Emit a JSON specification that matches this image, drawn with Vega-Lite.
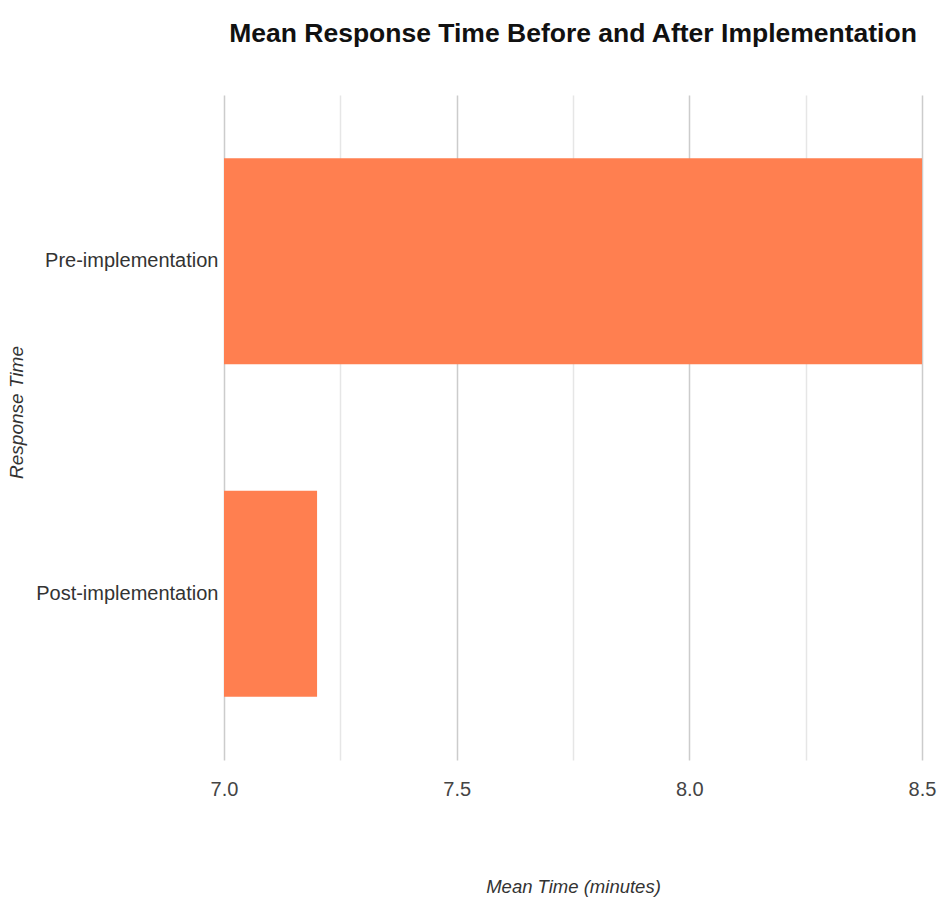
{
  "$schema": "https://vega.github.io/schema/vega-lite/v6.json",
  "width": 698,
  "height": 665,
  "autosize": "none",
  "padding": {"left": 224, "top": 95, "right": 18, "bottom": 137},
  "background": "white",
  "config": {
    "font": "Liberation Sans, Arial, sans-serif",
    "view": {"stroke": null}
  },
  "title": {
    "text": "Mean Response Time Before and After Implementation",
    "fontSize": 26.5,
    "fontWeight": "bold",
    "color": "#111",
    "anchor": "middle",
    "offset": 48
  },
  "data": {
    "values": [
      {"phase": "Pre-implementation", "mean_time": 8.5},
      {"phase": "Post-implementation", "mean_time": 7.2}
    ]
  },
  "mark": {"type": "bar", "color": "#FF7F50", "clip": true},
  "encoding": {
    "y": {
      "field": "phase",
      "type": "nominal",
      "sort": ["Pre-implementation", "Post-implementation"],
      "scale": {"paddingInner": 0.38, "paddingOuter": 0.19},
      "axis": {
        "title": "Response Time",
        "titleFontStyle": "italic",
        "titleFontWeight": "normal",
        "titleFontSize": 19,
        "titleColor": "#333",
        "titlePadding": 9,
        "titleY": 317,
        "labelFontSize": 20,
        "labelColor": "#333",
        "labelPadding": 6,
        "labelLimit": 300,
        "ticks": false,
        "domain": false
      }
    },
    "x": {
      "field": "mean_time",
      "type": "quantitative",
      "scale": {"domain": [7, 8.5], "zero": false, "nice": false},
      "axis": {
        "title": "Mean Time (minutes)",
        "titleFontStyle": "italic",
        "titleFontWeight": "normal",
        "titleFontSize": 18.5,
        "titleColor": "#333",
        "titlePadding": 78,
        "values": [7, 7.25, 7.5, 7.75, 8, 8.25, 8.5],
        "labelExpr": "datum.value % 0.5 == 0 ? format(datum.value, '.1f') : ''",
        "labelFontSize": 20,
        "labelColor": "#444",
        "labelPadding": 19,
        "labelFlush": false,
        "ticks": false,
        "domain": false,
        "gridColor": {"condition": {"test": "datum.value % 0.5 == 0", "value": "#cccccc"}, "value": "#e6e6e6"},
        "gridWidth": 1.5
      }
    },
    "x2": {"datum": 7}
  }
}
